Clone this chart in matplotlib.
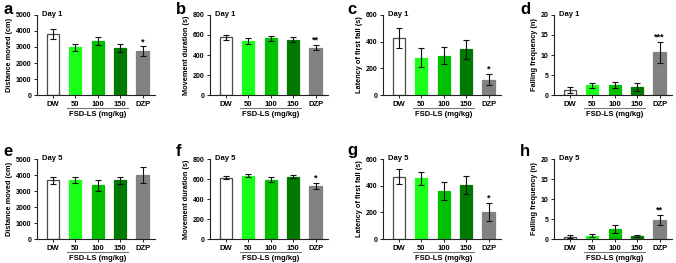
import matplotlib
matplotlib.use("Agg")
import matplotlib.pyplot as plt
import matplotlib.transforms as mtransforms

plt.rcParams['font.family'] = ['Liberation Sans', 'DejaVu Sans']
plt.rcParams['font.weight'] = 'bold'

groups = ["DW", "50", "100", "150", "DZP"]
colors = ["#ffffff", "#1aff1a", "#00c000", "#007a00", "#828282"]
edgecolors = ["#4a4a4a", "#1aff1a", "#00c000", "#007a00", "#828282"]

# Day 1
a_mean = [3840, 2990, 3350, 2950, 2750]
a_err = [310, 225, 250, 250, 290]
b_mean = [575, 542, 566, 553, 473]
b_err = [28, 28, 25, 23, 28]
c_mean = [430, 279, 296, 343, 116]
c_err = [75, 72, 65, 72, 43]
d_mean = [1.2, 2.4, 2.55, 2.05, 10.7]
d_err = [0.75, 0.6, 0.8, 1.0, 2.6]
# Day 5
e_mean = [3660, 3700, 3350, 3660, 4000]
e_err = [240, 200, 350, 230, 470]
f_mean = [615, 635, 592, 625, 532]
f_err = [18, 15, 24, 15, 30]
g_mean = [466, 454, 357, 407, 203]
g_err = [57, 52, 68, 66, 68]
h_mean = [0.6, 0.85, 2.55, 0.75, 4.7]
h_err = [0.35, 0.4, 1.0, 0.3, 1.3]

panels = [
    ("a", a_mean, a_err, "Distance moved (cm)", 5000, 1000, "Day 1", {4: "*"}),
    ("b", b_mean, b_err, "Movement duration (s)", 800, 200, "Day 1", {4: "**"}),
    ("c", c_mean, c_err, "Latency of first fall (s)", 600, 200, "Day 1", {4: "*"}),
    ("d", d_mean, d_err, "Falling frequency (n)", 20, 5, "Day 1", {4: "***"}),
    ("e", e_mean, e_err, "Distance moved (cm)", 5000, 1000, "Day 5", {}),
    ("f", f_mean, f_err, "Movement duration (s)", 800, 200, "Day 5", {4: "*"}),
    ("g", g_mean, g_err, "Latency of first fall (s)", 600, 200, "Day 5", {4: "*"}),
    ("h", h_mean, h_err, "Falling frequency (n)", 20, 5, "Day 5", {4: "**"}),
]

W, H = 676, 263
fig = plt.figure(figsize=(W / 100, H / 100), dpi=100)

lefts = [37, 210, 383, 554]
tops = [15, 159]
axw, axh = 118, 80
letter_x = [3, 176, 347, 520]
letter_y = [10, 151]

for i, (lab, mean, err, ylabel, ymax, ystep, day, stars) in enumerate(panels):
    row, col = divmod(i, 4)
    l = lefts[col]
    t = tops[row]
    ax = fig.add_axes([l / W, 1 - (t + axh) / H, axw / W, axh / H])
    x = list(range(len(groups)))
    ax.bar(x, mean, width=0.55, color=colors, edgecolor=edgecolors, linewidth=0.9, zorder=2)
    ax.errorbar(x, mean, yerr=err, fmt='none', ecolor='#111111', elinewidth=0.8,
                capsize=2.2, capthick=0.8, zorder=3)
    ax.set_xlim(-0.7, 4.55)
    ax.set_ylim(0, ymax)
    ax.set_yticks(list(range(0, ymax + 1, ystep)))
    ax.set_xticks(x)
    ax.set_xticklabels(groups, fontsize=5.5, fontweight='bold')
    for tl in ax.get_yticklabels():
        tl.set_fontsize(5)
        tl.set_fontweight('bold')
    ax.tick_params(axis='both', length=2.5, width=0.7, pad=1.5, color='#222222')
    ax.spines['top'].set_visible(False)
    ax.spines['right'].set_visible(False)
    for s in ('left', 'bottom'):
        ax.spines[s].set_linewidth(0.8)
        ax.spines[s].set_color('#222222')
    ax.set_ylabel(ylabel, fontsize=5.3, fontweight='bold', labelpad=2)
    ax.text(0.04, 1.0, day, transform=ax.transAxes, fontsize=5.5, fontweight='bold',
            ha='left', va='center')
    for k, s in stars.items():
        ax.text(k, mean[k] + err[k], s, ha='center', va='bottom', fontsize=6.5,
                fontweight='bold')
    trans = mtransforms.blended_transform_factory(ax.transData, ax.transAxes)
    ax.plot([0.65, 3.35], [-0.165, -0.165], transform=trans, color='#777777',
            lw=0.8, clip_on=False)
    ax.text(2, -0.2, "FSD-LS (mg/kg)", transform=trans, ha='center', va='top',
            fontsize=5.5, fontweight='bold')
    fig.text(letter_x[col] / W, 1 - letter_y[row] / H, lab, fontsize=12,
             fontweight='bold', ha='left', va='center')

fig.savefig("out.png", dpi=100)
